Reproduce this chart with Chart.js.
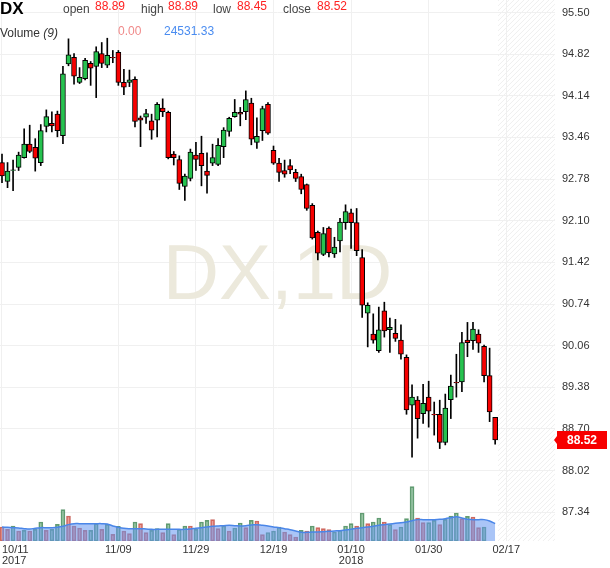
<!DOCTYPE html>
<html>
<head>
<meta charset="utf-8">
<title>DX 1D</title>
<script src="https://cdn.jsdelivr.net/npm/chart.js@4.4.1/dist/chart.umd.min.js"></script>
<style>
    html, body { margin: 0; padding: 0; background: #fff; }
    #wrap { position: relative; width: 610px; height: 568px; font-family: Arial, "Liberation Sans", sans-serif; }
    #chart { position: absolute; left: 0; top: 0; }
    .hdr { position: absolute; font-size: 12px; line-height: 14px; white-space: nowrap; color: #444; }
    .sym { font-size: 17px; font-weight: bold; color: #000; line-height: 18px; }
    .val { color: #f22; }
</style>
</head>
<body>
<div id="wrap">
    <canvas id="chart" width="610" height="568"></canvas>
    <div class="hdr sym" style="left:0; top:0;">DX</div>
    <div class="hdr" style="left:63px; top:2px;">open</div>
    <div class="hdr val" style="left:95px; top:-1px;">88.89</div>
    <div class="hdr" style="left:141px; top:2px;">high</div>
    <div class="hdr val" style="left:168px; top:-1px;">88.89</div>
    <div class="hdr" style="left:213px; top:2px;">low</div>
    <div class="hdr val" style="left:237px; top:-1px;">88.45</div>
    <div class="hdr" style="left:283px; top:2px;">close</div>
    <div class="hdr val" style="left:317px; top:-1px;">88.52</div>
    <div class="hdr" style="left:0; top:26px; color:#333;">Volume <i>(9)</i></div>
    <div class="hdr" style="left:118px; top:24px; color:#f08a8a;">0.00</div>
    <div class="hdr" style="left:164px; top:24px; color:#4a8cf0;">24531.33</div>
</div>
<script>
// trading days shown (one candle each)
const dates = [
    '10/11','10/12','10/13','10/16','10/17','10/18','10/19','10/20','10/23','10/24',
    '10/25','10/26','10/27','10/30','10/31','11/01','11/02','11/03','11/06','11/07',
    '11/08','11/09','11/10','11/13','11/14','11/15','11/16','11/17','11/20','11/21',
    '11/22','11/23','11/24','11/27','11/28','11/29','11/30','12/01','12/04','12/05',
    '12/06','12/07','12/08','12/11','12/12','12/13','12/14','12/15','12/18','12/19',
    '12/20','12/21','12/22','12/26','12/27','12/28','12/29','01/02','01/03','01/04',
    '01/05','01/08','01/09','01/10','01/11','01/12','01/15','01/16','01/17','01/18',
    '01/19','01/22','01/23','01/24','01/25','01/26','01/29','01/30','01/31','02/01',
    '02/02','02/05','02/06','02/07','02/08','02/09','02/12','02/13','02/14','02/15'
];

const opens = [
    93.05, 92.74, 92.92, 92.97, 93.13, 93.35, 93.30, 93.05, 93.64, 93.69,
    93.84, 93.49, 94.66, 94.77, 94.36, 94.42, 94.67, 94.62, 94.83, 94.64,
    94.77, 94.85, 94.36, 94.36, 94.41, 93.78, 93.79, 93.73, 93.74, 93.94,
    93.87, 93.19, 93.10, 92.66, 92.79, 93.17, 93.20, 92.91, 93.04, 93.02,
    93.31, 93.56, 93.80, 93.87, 93.88, 94.02, 93.38, 93.57, 94.00, 93.25,
    93.04, 92.92, 93.00, 92.89, 92.82, 92.69, 92.35, 91.91, 91.55, 91.98,
    91.56, 91.77, 92.07, 92.23, 92.07, 91.50, 90.59, 90.25, 89.98, 90.63,
    90.32, 90.26, 90.15, 89.87, 89.09, 89.17, 88.95, 89.22, 88.94, 88.94,
    88.48, 89.18, 89.46, 89.47, 90.15, 90.14, 90.25, 90.05, 89.57, 88.89
];
const highs = [
    93.19, 93.05, 93.09, 93.22, 93.60, 93.66, 93.44, 93.67, 93.91, 93.88,
    93.89, 94.62, 95.07, 94.83, 94.60, 94.75, 94.70, 94.94, 95.01, 95.08,
    94.88, 94.88, 94.57, 94.56, 94.45, 93.81, 93.92, 93.84, 94.03, 94.09,
    93.89, 93.23, 93.16, 92.86, 93.27, 93.38, 93.48, 93.21, 93.35, 93.44,
    93.62, 93.79, 94.08, 93.95, 94.22, 94.10, 93.78, 93.97, 94.03, 93.32,
    93.12, 93.09, 93.10, 92.94, 92.86, 92.70, 92.38, 91.93, 91.99, 92.00,
    91.83, 92.14, 92.36, 92.29, 92.30, 91.63, 90.76, 90.58, 90.69, 90.77,
    90.51, 90.49, 90.40, 89.91, 89.42, 89.23, 89.43, 89.48, 89.14, 89.17,
    89.27, 89.58, 89.92, 90.28, 90.44, 90.44, 90.32, 90.07, 90.02, 88.89
];
const lows = [
    92.72, 92.64, 92.59, 92.92, 93.12, 93.21, 92.91, 93.00, 93.55, 93.55,
    93.47, 93.36, 94.63, 94.33, 94.34, 94.40, 94.31, 94.11, 94.60, 94.60,
    94.68, 94.31, 94.16, 94.29, 93.63, 93.31, 93.69, 93.43, 93.47, 93.80,
    93.11, 93.01, 92.61, 92.43, 92.75, 92.92, 92.67, 92.55, 93.00, 93.00,
    93.13, 93.48, 93.79, 93.65, 93.75, 93.34, 93.28, 93.41, 93.51, 93.02,
    92.74, 92.81, 92.87, 92.74, 92.54, 92.27, 91.80, 91.46, 91.53, 91.51,
    91.50, 91.59, 91.96, 91.65, 91.53, 90.52, 90.04, 90.10, 89.95, 90.20,
    89.95, 90.13, 89.84, 88.94, 88.24, 88.55, 88.79, 88.73, 88.60, 88.38,
    88.44, 88.87, 89.22, 89.31, 89.88, 90.00, 89.95, 89.47, 88.82, 88.45
];
const closes = [
    92.83, 92.91, 92.93, 93.17, 93.35, 93.23, 93.12, 93.57, 93.80, 93.65,
    93.57, 94.50, 94.81, 94.46, 94.44, 94.72, 94.59, 94.86, 94.67, 94.80,
    94.76, 94.36, 94.28, 94.40, 93.72, 93.74, 93.85, 93.58, 94.00, 93.88,
    93.13, 93.13, 92.71, 92.83, 93.22, 93.10, 93.00, 92.84, 93.13, 93.33,
    93.58, 93.77, 93.87, 93.84, 94.08, 93.43, 93.48, 93.93, 93.53, 93.04,
    92.89, 92.86, 92.93, 92.79, 92.61, 92.30, 91.82, 91.57, 91.89, 91.58,
    91.67, 92.08, 92.25, 92.07, 91.61, 90.72, 90.72, 90.15, 90.32, 90.30,
    90.36, 90.18, 89.92, 89.01, 89.22, 88.87, 89.12, 88.99, 88.93, 88.48,
    89.04, 89.40, 89.45, 90.11, 90.11, 90.33, 90.10, 89.57, 88.98, 88.52
];

const volumes = [
    19900, 16500, 21300, 14200, 15100, 14200, 16500, 26900, 15100, 16500,
    23600, 44400, 35400, 21300, 18400, 15100, 15100, 24600, 16500, 23600,
    9500, 20800, 14200, 10400, 26900, 24600, 11800, 15100, 17500, 11800,
    24600, 9000, 16500, 21300, 21300, 16500, 26900, 29300, 30300, 17500,
    21300, 14200, 18400, 25500, 18900, 29300, 28400, 9000, 12000, 14200,
    19900, 12800, 9000, 5700, 15100, 14200, 21300, 18900, 17500, 16100,
    12800, 15100, 21300, 24600, 21300, 39700, 24600, 26900, 32600, 26900,
    23200, 16100, 19900, 31700, 77000, 32600, 26000, 26000, 29300, 23200,
    30700, 35400, 39700, 31700, 35000, 34000, 18900, 19900, 0, 0
];
// 1 = green volume bar, 0 = red
const volumeUp = [
    0, 0, 1, 0, 1, 0, 1, 1, 0, 1,
    1, 1, 0, 0, 0, 0, 1, 1, 0, 1,
    0, 1, 0, 0, 1, 0, 0, 1, 1, 0,
    1, 0, 1, 1, 0, 1, 1, 1, 0, 0,
    1, 0, 1, 1, 0, 1, 0, 0, 1, 1,
    1, 0, 0, 0, 1, 0, 1, 0, 0, 0,
    1, 1, 1, 1, 0, 1, 0, 1, 1, 0,
    1, 0, 1, 1, 1, 0, 0, 1, 1, 0,
    1, 1, 1, 0, 1, 0, 0, 1, 0, 0
];
// Volume (9) average line
const volumeAvg = [
    19900, 19400, 18900, 18400, 17500, 17000, 18000, 18900, 18900, 18900,
    19400, 20800, 23200, 24600, 24600, 24600, 24600, 24600, 24600, 24100,
    21300, 19400, 18000, 17500, 17500, 17500, 17000, 16500, 16500, 16500,
    16500, 16500, 16500, 16500, 17000, 18000, 18900, 19900, 20800, 21300,
    21700, 22200, 21700, 21300, 21700, 22700, 23200, 22200, 21300, 19900,
    18900, 17500, 16100, 14200, 12300, 12300, 12800, 12800, 13200, 13700,
    14200, 14700, 15600, 16500, 18000, 18900, 19900, 20800, 22200, 23200,
    24100, 25000, 26000, 26900, 28800, 30300, 30300, 30300, 30300, 30700,
    31700, 33100, 34500, 32600, 30700, 30300, 30300, 30300, 28400, 24531.33
];

const priceTicks = [95.50, 94.82, 94.14, 93.46, 92.78, 92.10, 91.42, 90.74, 90.06, 89.38, 88.70, 88.02, 87.34];
const dateTickSlots = [0, 21, 35, 49, 63, 77, 91];
const dateTickLabels = [['10/11', '2017'], '11/09', '11/29', '12/19', ['01/10', '2018'], '01/30', '02/17'];

const X_MIN = -0.36, X_MAX = 99.8;
const GREEN = '#26c24f', RED = '#f70000';

// hatched "future" zone
const hatchPlugin = {
    id: 'hatch',
    beforeDraw(chart) {
        const { ctx, chartArea } = chart;
        const x0 = chart.scales.x.getPixelForValue(dates.length - 0.5);
        ctx.save();
        ctx.beginPath();
        ctx.rect(x0, chartArea.top, chartArea.right - x0, chartArea.bottom - chartArea.top);
        ctx.clip();
        ctx.strokeStyle = '#efefef';
        ctx.lineWidth = 1;
        for (let k = -600; k < 700; k += 5) {
            ctx.beginPath();
            ctx.moveTo(x0 + k, chartArea.bottom);
            ctx.lineTo(x0 + k + 600, chartArea.bottom - 600);
            ctx.stroke();
        }
        ctx.restore();
    }
};

// big faint symbol in the middle
const watermarkPlugin = {
    id: 'watermark',
    beforeDatasetsDraw(chart) {
        const { ctx, chartArea } = chart;
        ctx.save();
        ctx.font = '78px Arial, "Liberation Sans", sans-serif';
        ctx.fillStyle = '#ece9dc';
        ctx.textAlign = 'center';
        ctx.textBaseline = 'alphabetic';
        ctx.fillText('DX,1D', (chartArea.left + chartArea.right) / 2, (chartArea.top + chartArea.bottom) / 2 + 28);
        ctx.restore();
    }
};

// last price marker on the axis
const lastPricePlugin = {
    id: 'lastPrice',
    afterDraw(chart) {
        const { ctx, chartArea } = chart;
        const last = closes[closes.length - 1];
        const y = chart.scales.y.getPixelForValue(last);
        const x = chartArea.right + 2;
        ctx.save();
        ctx.fillStyle = '#f70000';
        ctx.beginPath();
        ctx.moveTo(x - 3, y);
        ctx.lineTo(x, y - 4);
        ctx.lineTo(x, y - 9);
        ctx.lineTo(x + 50, y - 9);
        ctx.lineTo(x + 50, y + 9);
        ctx.lineTo(x, y + 9);
        ctx.lineTo(x, y + 4);
        ctx.closePath();
        ctx.fill();
        ctx.fillStyle = '#fff';
        ctx.font = 'bold 12px Arial, "Liberation Sans", sans-serif';
        ctx.textAlign = 'center';
        ctx.textBaseline = 'middle';
        ctx.fillText(last.toFixed(2), x + 25, y + 1);
        ctx.restore();
    }
};

const bodyData = dates.map((d, i) => ({ x: i, y: [Math.min(opens[i], closes[i]), Math.max(opens[i], closes[i])] }));
const wickData = dates.map((d, i) => ({ x: i, y: [lows[i], highs[i]] }));
const volData = dates.map((d, i) => ({ x: i, y: volumes[i] }));
const avgData = dates.map((d, i) => ({ x: i, y: volumeAvg[i] }));

const ctx = document.getElementById('chart').getContext('2d');
new Chart(ctx, {
    type: 'bar',
    data: {
        datasets: [
            {
                label: 'body',
                data: bodyData,
                backgroundColor: dates.map((d, i) => closes[i] >= opens[i] ? GREEN : RED),
                borderColor: '#000',
                borderWidth: 1,
                borderSkipped: false,
                barThickness: 5,
                grouped: false,
                yAxisID: 'y',
                order: 1
            },
            {
                label: 'wick',
                data: wickData,
                backgroundColor: '#000',
                barThickness: 1,
                grouped: false,
                yAxisID: 'y',
                order: 2
            },
            {
                type: 'line',
                label: 'Volume (9)',
                data: avgData,
                borderColor: '#4a86e8',
                borderWidth: 1.5,
                backgroundColor: 'rgba(100, 150, 240, 0.55)',
                fill: 'origin',
                pointRadius: 0,
                tension: 0.4,
                yAxisID: 'v',
                order: 3
            },
            {
                label: 'Volume',
                data: volData,
                backgroundColor: volumeUp.map(u => u ? 'rgba(90, 160, 110, 0.55)' : 'rgba(220, 100, 90, 0.6)'),
                borderColor: volumeUp.map(u => u ? 'rgba(60, 130, 80, 0.8)' : 'rgba(190, 70, 60, 0.8)'),
                borderWidth: 1,
                borderSkipped: false,
                barThickness: 4,
                grouped: false,
                yAxisID: 'v',
                order: 4
            }
        ]
    },
    options: {
        responsive: false,
        animation: false,
        layout: { padding: 0 },
        plugins: {
            legend: { display: false },
            tooltip: { enabled: false }
        },
        scales: {
            x: {
                type: 'linear',
                offset: false,
                min: X_MIN,
                max: X_MAX,
                afterBuildTicks(scale) {
                    scale.ticks = dateTickSlots.map(v => ({ value: v })).concat([{ value: X_MAX }]);
                },
                afterFit(scale) {
                    scale.height = 27;
                    scale.paddingLeft = 0;
                    scale.paddingRight = 0;
                },
                border: { display: false },
                grid: {
                    offset: false,
                    color: c => (c.tick && c.tick.value === X_MAX) ? 'rgba(0,0,0,0)' : '#f0f0f0',
                    drawTicks: false
                },
                ticks: {
                    autoSkip: false,
                    maxRotation: 0,
                    align: 'inner',
                    padding: 4,
                    color: '#333',
                    font: { family: 'Arial, "Liberation Sans", sans-serif', size: 11, lineHeight: 0.95 },
                    callback(value) {
                        const k = dateTickSlots.indexOf(value);
                        return k >= 0 ? dateTickLabels[k] : '';
                    }
                }
            },
            y: {
                type: 'linear',
                position: 'right',
                min: 86.871,
                max: 95.704,
                afterBuildTicks(scale) {
                    scale.ticks = priceTicks.map(v => ({ value: v }));
                },
                afterFit(scale) {
                    scale.width = 55;
                    scale.paddingTop = 0;
                    scale.paddingBottom = 0;
                },
                border: { display: false },
                grid: { color: '#f0f0f0', drawTicks: false },
                ticks: {
                    padding: 7,
                    color: '#333',
                    font: { family: 'Arial, "Liberation Sans", sans-serif', size: 11 },
                    callback: v => v.toFixed(2)
                }
            },
            v: {
                type: 'linear',
                display: false,
                min: 0,
                max: 767000
            }
        }
    },
    plugins: [hatchPlugin, watermarkPlugin, lastPricePlugin]
});
</script>
</body>
</html>
